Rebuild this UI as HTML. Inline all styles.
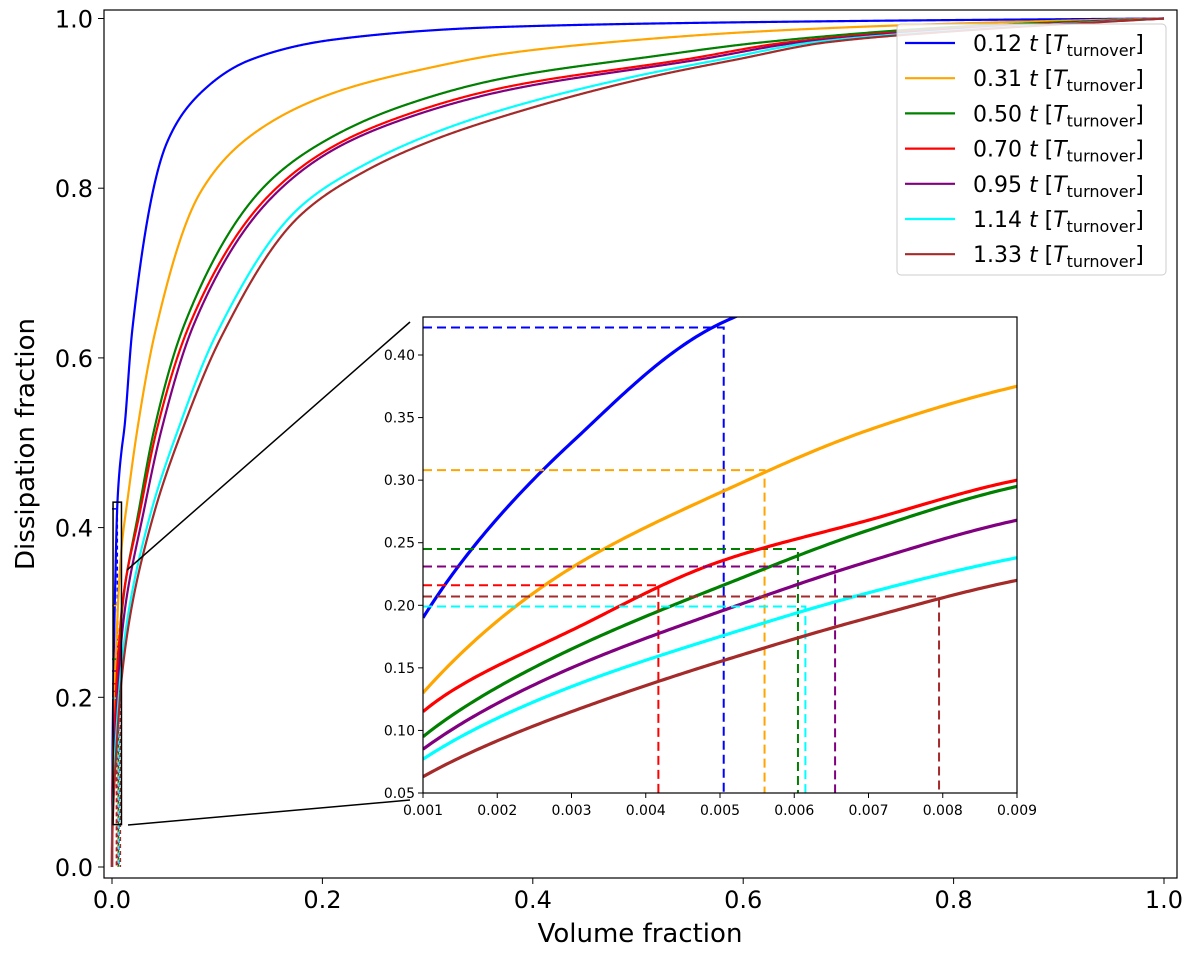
<!DOCTYPE html>
<html><head><meta charset="utf-8">
<style>
html,body{margin:0;padding:0;background:#fff;}
svg{display:block;font-family:"DejaVu Sans","Liberation Sans",sans-serif;}
</style></head>
<body>
<svg id="chart" width="1200" height="953" viewBox="0 0 1200 953" xmlns="http://www.w3.org/2000/svg">
<defs>
<clipPath id="mainClip"><rect x="104" y="10" width="1073" height="868"/></clipPath>
<clipPath id="insetClip"><rect x="423" y="317" width="594" height="476"/></clipPath>
</defs>
<g id="main"></g>
<g id="inset"></g>
<g id="legend"></g>
</svg>
<script>
const seriesLabels = ["0.12","0.31","0.50","0.70","0.95","1.14","1.33"];
const seriesColors = ["#0000ff","#ffa500","#008000","#ff0000","#800080","#00ffff","#a52a2a"];
const xBlue   = [0,0.001,0.003,0.005,0.007,0.009,0.012,0.0193,0.052,0.084,0.131,0.21,0.37,0.7,1.0];
const yBlue   = [0,0.19,0.33,0.425,0.465,0.49,0.52,0.633,0.853,0.912,0.951,0.975,0.99,0.997,1];
const xOrange = [0,0.001,0.003,0.005,0.007,0.009,0.015,0.024,0.0415,0.084,0.131,0.21,0.306,0.37,0.473,0.619,0.8,1.0];
const yOrange = [0,0.13,0.23,0.29,0.34,0.375,0.435,0.515,0.633,0.795,0.861,0.912,0.943,0.958,0.972,0.985,0.994,1];
const xGreen  = [0,0.001,0.003,0.005,0.007,0.009,0.025,0.040,0.069,0.148,0.21,0.274,0.37,0.512,0.619,0.8,1.0];
const yGreen  = [0,0.095,0.165,0.215,0.26,0.295,0.417,0.515,0.64,0.806,0.861,0.896,0.929,0.955,0.972,0.99,1];
const xRed    = [0,0.001,0.003,0.005,0.007,0.009,0.0263,0.0425,0.074,0.148,0.21,0.274,0.37,0.546,0.643,0.8,1.0];
const yRed    = [0,0.115,0.18,0.235,0.268,0.30,0.417,0.515,0.64,0.79,0.849,0.884,0.918,0.952,0.972,0.988,1];
const xPurple = [0,0.001,0.003,0.005,0.007,0.009,0.0298,0.047,0.078,0.148,0.21,0.274,0.37,0.56,0.655,0.8,1.0];
const yPurple = [0,0.085,0.15,0.195,0.235,0.268,0.417,0.515,0.64,0.784,0.845,0.88,0.914,0.952,0.972,0.987,1];
const xCyan   = [0,0.001,0.003,0.005,0.007,0.009,0.0368,0.0627,0.1,0.179,0.242,0.306,0.37,0.498,0.58,0.667,0.8,1.0];
const yCyan   = [0,0.077,0.135,0.175,0.21,0.238,0.417,0.515,0.63,0.778,0.829,0.865,0.892,0.932,0.952,0.972,0.986,1];
const xBrown  = [0,0.001,0.003,0.005,0.007,0.009,0.040,0.0668,0.104,0.179,0.242,0.306,0.37,0.515,0.595,0.68,0.8,1.0];
const yBrown  = [0,0.063,0.115,0.155,0.19,0.22,0.417,0.515,0.625,0.768,0.821,0.857,0.884,0.932,0.952,0.972,0.985,1];
const seriesX = [xBlue,xOrange,xGreen,xRed,xPurple,xCyan,xBrown];
const seriesY = [yBlue,yOrange,yGreen,yRed,yPurple,yCyan,yBrown];
const markX = [0.00505,0.0056,0.00605,0.00417,0.00655,0.00615,0.00795];
const markY = [0.422,0.308,0.245,0.216,0.231,0.199,0.207];
const mainTicks = [0,0.2,0.4,0.6,0.8,1.0];
const mainTickLabels = ["0.0","0.2","0.4","0.6","0.8","1.0"];
const insetXTicks = [0.001,0.002,0.003,0.004,0.005,0.006,0.007,0.008,0.009];
const insetYTicks = [0.05,0.10,0.15,0.20,0.25,0.30,0.35,0.40];

const NS="http://www.w3.org/2000/svg";
function mk(tag,attrs,parent){const e=document.createElementNS(NS,tag);for(const k in attrs)e.setAttribute(k,attrs[k]);parent.appendChild(e);return e;}
const mx=v=>112+v*1052, my=v=>867-v*848.5;
const ix=v=>423+(v-0.001)*74250, iy=v=>793-(v-0.05)*1251.4;

// monotone cubic interpolation in sqrt(x) space
function interp(xr,ya){
  const xa=xr.map(Math.sqrt);
  const n=xa.length,d=[],m=[];
  for(let i=0;i<n-1;i++)d.push((ya[i+1]-ya[i])/(xa[i+1]-xa[i]));
  m[0]=d[0];m[n-1]=d[n-2];
  for(let i=1;i<n-1;i++){m[i]=(d[i-1]*d[i]<=0)?0:3*(xa[i+1]-xa[i-1])/((2*xa[i+1]-xa[i]-xa[i-1])/d[i-1]+(xa[i+1]+xa[i]-2*xa[i-1])/d[i]);}
  return xv=>{const x=Math.sqrt(xv);let i=0;while(i<n-2&&x>xa[i+1])i++;const h=xa[i+1]-xa[i],t=(x-xa[i])/h;
    const h00=2*t*t*t-3*t*t+1,h10=t*t*t-2*t*t+t,h01=-2*t*t*t+3*t*t,h11=t*t*t-t*t;
    return h00*ya[i]+h10*h*m[i]+h01*ya[i+1]+h11*h*m[i+1];};
}
function pathFor(f,x0,x1,sx,sy,steps,pw){
  let d="";for(let k=0;k<=steps;k++){let t=k/steps;let x=x0+(x1-x0)*Math.pow(t,pw);
    d+=(k?"L":"M")+sx(x).toFixed(2)+","+sy(f(x)).toFixed(2);}return d;}

const main=document.getElementById('main');
const mf=mk('rect',{x:104,y:10,width:1073,height:868,fill:'none',stroke:'#000','stroke-width':1.2},main);


mainTicks.forEach((v,i)=>{
  mk('line',{x1:mx(v),y1:878,x2:mx(v),y2:884,stroke:'#000'},main);
  const tx=mk('text',{x:mx(v),y:908,'text-anchor':'middle','font-size':24},main);tx.textContent=mainTickLabels[i];
  
  
  mk('line',{x1:98,y1:my(v),x2:104,y2:my(v),stroke:'#000'},main);
  const ty=mk('text',{x:93,y:my(v)+9,'text-anchor':'end','font-size':24},main);ty.textContent=mainTickLabels[i];
  
  
});
const xl=mk('text',{x:640,y:942,'text-anchor':'middle','font-size':26},main);xl.textContent="Volume fraction";


const yl=mk('text',{x:0,y:0,'text-anchor':'middle','font-size':26,transform:'translate(34,444) rotate(-90)'},main);yl.textContent="Dissipation fraction";



const mg=mk('g',{'clip-path':'url(#mainClip)'},main);
const fns=seriesY.map((ya,i)=>interp(seriesX[i],ya));
fns.forEach((f,i)=>{
  const p=mk('path',{d:pathFor(f,0,1,mx,my,1500,3),fill:'none',stroke:seriesColors[i],'stroke-width':2.2},mg);
  
  
  mk('path',{d:`M${mx(0)},${my(markY[i])}H${mx(markX[i])}V${my(0)}`,fill:'none',stroke:seriesColors[i],'stroke-width':1.5,'stroke-dasharray':'4,3'},mg);
});
const zb=mk('rect',{x:mx(0.001),y:my(0.43),width:mx(0.009)-mx(0.001),height:my(0.05)-my(0.43),fill:'none',stroke:'#000','stroke-width':1.5},main);


mk('line',{x1:127,y1:570,x2:410,y2:322,stroke:'#000','stroke-width':1.5},main);
mk('line',{x1:128,y1:825,x2:410,y2:800,stroke:'#000','stroke-width':1.5},main);

const inset=document.getElementById('inset');
mk('rect',{x:423,y:317,width:594,height:476,fill:'#fff',stroke:'none'},inset);
const ig=mk('g',{'clip-path':'url(#insetClip)'},inset);
fns.forEach((f,i)=>{
  const p=mk('path',{d:pathFor(f,0.001,0.009,ix,iy,200,1),fill:'none',stroke:seriesColors[i],'stroke-width':3.2},ig);
  
  
  const dl=mk('path',{d:`M${ix(0.001)},${iy(markY[i])}H${ix(markX[i])}V${iy(0.05)}`,fill:'none',stroke:seriesColors[i],'stroke-width':2,'stroke-dasharray':'9,5'},ig);
  
  
});
const ifr=mk('rect',{x:423,y:317,width:594,height:476,fill:'none',stroke:'#000','stroke-width':1.2},inset);


insetXTicks.forEach(v=>{
  mk('line',{x1:ix(v),y1:793,x2:ix(v),y2:798,stroke:'#000'},inset);
  const t=mk('text',{x:ix(v),y:815,'text-anchor':'middle','font-size':14},inset);t.textContent=v.toFixed(3);
  
  
});
insetYTicks.forEach(v=>{
  mk('line',{x1:418,y1:iy(v),x2:423,y2:iy(v),stroke:'#000'},inset);
  const t=mk('text',{x:415,y:iy(v)+5,'text-anchor':'end','font-size':14},inset);t.textContent=v.toFixed(2);
  
  
});

const lg=document.getElementById('legend');
const lb=mk('rect',{x:897,y:24,width:269,height:251,rx:4,fill:'#fff','fill-opacity':0.85,stroke:'#ccc'},lg);


seriesLabels.forEach((s,i)=>{
  const y=43+i*35.2;
  const g=mk('g',{},lg);
  
  
  mk('line',{x1:905,y1:y,x2:955,y2:y,stroke:seriesColors[i],'stroke-width':2.2},g);
  const t=mk('text',{x:973,y:y+8,'font-size':22},g);
  t.innerHTML=s+' <tspan font-style="italic">t</tspan> [<tspan font-style="italic">T</tspan><tspan font-size="16" dy="5">turnover</tspan><tspan dy="-5">]</tspan>';
});
</script>
</body></html>
